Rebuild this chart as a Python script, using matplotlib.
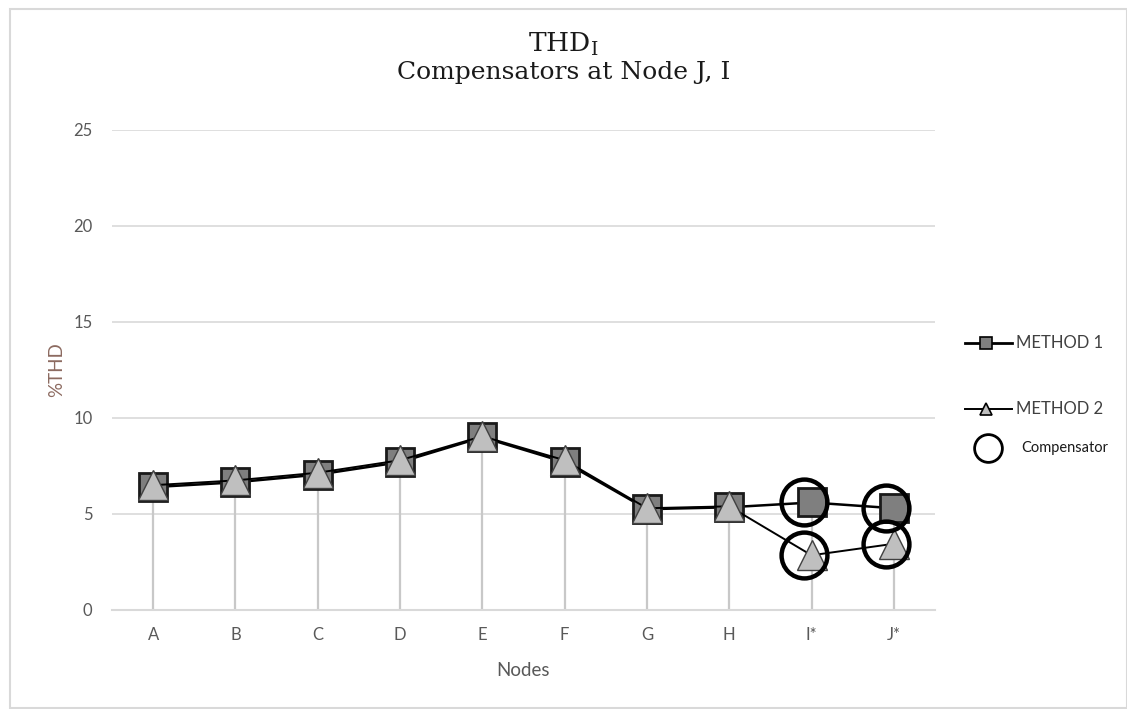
import matplotlib
matplotlib.use("Agg")
import matplotlib.pyplot as plt
from matplotlib.lines import Line2D
from matplotlib.patches import Rectangle
import numpy as np

nodes = ["A", "B", "C", "D", "E", "F", "G", "H", "I*", "J*"]
method1 = [6.4, 6.65, 7.05, 7.7, 9.0, 7.7, 5.25, 5.35, 5.6, 5.3]
method2 = [6.5, 6.75, 7.15, 7.8, 9.05, 7.8, 5.3, 5.4, 2.85, 3.45]
comp_nodes = ["I*", "J*"]
yticks = [0, 5, 10, 15, 20, 25]

plt.rcParams['font.family'] = ['Lato', 'DejaVu Sans']

fig = plt.figure(figsize=(11.27, 7.09), dpi=100)
fig.patches.append(Rectangle((10/1127, 1/709), 1 - 10/1127, 1 - 10/709,
                             transform=fig.transFigure, fill=False,
                             edgecolor="#d9d9d9", linewidth=1.5))

ax = fig.add_axes([112/1127, 1 - 610/709, 823/1127, 480/709])
x = np.arange(len(nodes))

# drop lines
tops = np.maximum(method1, method2)
ax.vlines(x, 0, tops, color="#c8c8c8", linewidth=1.6, zorder=1)

ax.plot(x, method1, color="black", linewidth=1.8, marker="s", markersize=20,
        markerfacecolor="#7f7f7f", markeredgecolor="#1a1a1a", markeredgewidth=2, zorder=3)
ax.plot(x, method2, color="black", linewidth=1.4, marker="^", markersize=21,
        markerfacecolor="#bfbfbf", markeredgecolor="#404040", markeredgewidth=1, zorder=4)

# compensator circles
for n in comp_nodes:
    i = nodes.index(n)
    for v in (method1[i], method2[i]):
        ax.plot([i - 0.09], [v], marker="o", markersize=33, markerfacecolor="none",
                markeredgecolor="black", markeredgewidth=3.2, zorder=5)

ax.set_xlim(-0.5, len(nodes) - 0.5)
ax.set_ylim(0, 25)
ax.set_yticks(yticks)
ax.set_xticks(x)
ax.set_xticklabels(nodes)
ax.grid(axis="y", color="#d9d9d9", linewidth=1.2, zorder=0)
ax.set_axisbelow(True)
for s in ["top", "right", "left"]:
    ax.spines[s].set_visible(False)
ax.spines["bottom"].set_color("#d9d9d9")
ax.spines["bottom"].set_linewidth(1.5)
ax.tick_params(axis="both", length=0, colors="#595959", labelsize=12)
ax.tick_params(axis="x", pad=12)
ax.tick_params(axis="y", pad=14)
ax.set_xlabel("Nodes", fontsize=13.5, color="#595959", labelpad=14)
ax.set_ylabel("%THD", fontsize=13.5, color="#8c6a60", labelpad=6)

fig.text(0.5, 1 - 44/709, r"THD$_\mathregular{I}$", ha="center", va="center",
         fontsize=19, family="DejaVu Serif", color="#1a1a1a")
fig.text(0.5, 1 - 73/709, "Compensators at Node J, I", ha="center", va="center",
         fontsize=18, family="DejaVu Serif", color="#1a1a1a")

# legend
lx0, lx1, lxm = 965/1127, 1012/1127, 986/1127
for y, mk, ms, fc, lw, lab in [(343, "s", 8, "#7f7f7f", 2, "METHOD 1"),
                               (409, "^", 8, "#bfbfbf", 1.4, "METHOD 2")]:
    yf = 1 - y/709
    fig.add_artist(Line2D([lx0, lx1], [yf, yf], color="black", linewidth=lw,
                          transform=fig.transFigure))
    fig.add_artist(Line2D([lxm], [yf], marker=mk, markersize=ms, markerfacecolor=fc,
                          markeredgecolor="black", markeredgewidth=1.2,
                          transform=fig.transFigure))
    fig.text(1016/1127, yf, lab, ha="left", va="center", fontsize=12, color="#404040")
yf = 1 - 448/709
fig.add_artist(Line2D([988/1127], [yf], marker="o", markersize=20, markerfacecolor="none",
                      markeredgecolor="black", markeredgewidth=2,
                      transform=fig.transFigure))
fig.text(1021/1127, yf, "Compensator", ha="left", va="center", fontsize=10.5,
         color="#1a1a1a")

fig.savefig("out.png", dpi=100)
